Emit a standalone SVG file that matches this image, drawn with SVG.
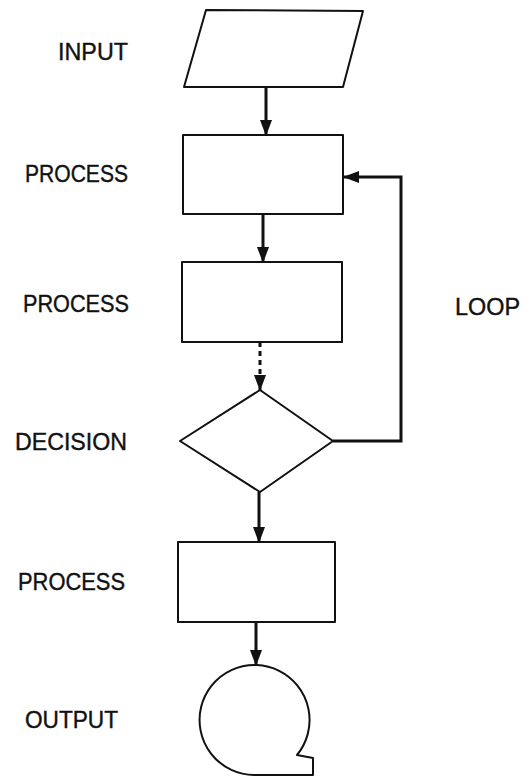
<svg xmlns="http://www.w3.org/2000/svg" width="530" height="777" viewBox="0 0 530 777">
<defs>
<style>
.shape{fill:#fff;stroke:#111;stroke-width:2;stroke-linejoin:round}
.conn{fill:none;stroke:#111;stroke-width:3}
.lbl{font-family:"Liberation Sans",Arial,sans-serif;font-size:24.5px;fill:#111;stroke:#111;stroke-width:0.4}
</style>
<marker id="ah" viewBox="0 0 16 12" refX="15" refY="6" markerWidth="16" markerHeight="12" markerUnits="userSpaceOnUse" orient="auto">
<path d="M0,0 L16,6 L0,12 z" fill="#111"/>
</marker>
</defs>
<rect width="530" height="777" fill="#fff"/>
<g id="connectors">
<line class="conn" x1="266" y1="87" x2="266" y2="135" marker-end="url(#ah)"/>
<line class="conn" x1="263" y1="214" x2="263" y2="262" marker-end="url(#ah)"/>
<line class="conn" x1="260" y1="342" x2="260" y2="390" stroke-dasharray="5 4" marker-end="url(#ah)"/>
<line class="conn" x1="259" y1="492" x2="259" y2="542" marker-end="url(#ah)"/>
<line class="conn" x1="256" y1="622" x2="256" y2="665" marker-end="url(#ah)"/>
<polyline class="conn" points="333,441 401,441 401,177 344,177" marker-end="url(#ah)"/>
</g>
<g id="input">
<polygon class="shape" points="206,10 363,11 343,87 184,87"/>
<text class="lbl" x="58" y="60" textLength="70" lengthAdjust="spacingAndGlyphs">INPUT</text>
</g>
<g id="process1">
<rect class="shape" x="183" y="135" width="160" height="79"/>
<text class="lbl" x="25" y="182" textLength="103" lengthAdjust="spacingAndGlyphs">PROCESS</text>
</g>
<g id="process2">
<rect class="shape" x="182" y="262" width="160" height="80"/>
<text class="lbl" x="23" y="312" textLength="106" lengthAdjust="spacingAndGlyphs">PROCESS</text>
</g>
<g id="decision">
<polygon class="shape" points="260,390 333,441 260,492 180,441"/>
<text class="lbl" x="15" y="450" textLength="112" lengthAdjust="spacingAndGlyphs">DECISION</text>
</g>
<g id="process3">
<rect class="shape" x="178" y="542" width="157" height="80"/>
<text class="lbl" x="18" y="590" textLength="107" lengthAdjust="spacingAndGlyphs">PROCESS</text>
</g>
<g id="output">
<path class="shape" d="M254,775 A55,55 0 1 1 297,755 L313,758 L313,775 Z"/>
<text class="lbl" x="25" y="728" textLength="93" lengthAdjust="spacingAndGlyphs">OUTPUT</text>
</g>
<g id="loop">
<text class="lbl" x="455" y="315" textLength="65" lengthAdjust="spacingAndGlyphs">LOOP</text>
</g>
</svg>
